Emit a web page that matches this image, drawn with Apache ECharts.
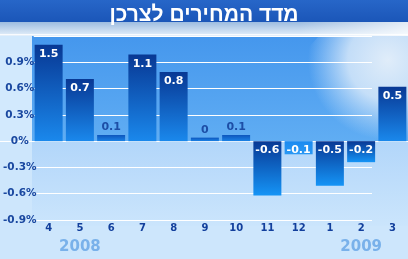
<!DOCTYPE html>
<html><head><meta charset="utf-8">
<script src="https://cdn.jsdelivr.net/npm/echarts@6/dist/echarts.min.js"></script>
<style>html,body{margin:0;padding:0;background:#cde6fc;overflow:hidden}#c{width:408px;height:259px}</style>
</head><body><div id="c"></div>
<script>
const titleText = 'מדד המחירים לצרכן';
const categories = ['4','5','6','7','8','9','10','11','12','1','2','3'];
const printedValues = [1.5, 0.7, 0.1, 1.1, 0.8, 0, 0.1, -0.6, -0.1, -0.5, -0.2, 0.5];
// bar heights as drawn against the % axis of the picture
const barHeights = [1.10, 0.71, 0.07, 0.99, 0.79, 0.04, 0.07, -0.62, -0.15, -0.51, -0.24, 0.62];
const yTicks = [-0.9, -0.6, -0.3, 0, 0.3, 0.6, 0.9];
const yTickLabels = ['-0.9%', '-0.6%', '-0.3%', '0%', '0.3%', '0.6%', '0.9%'];
const yearRow = ['', '2008', '', '', '', '', '', '', '', '', '2009', ''];

const Y_MIN = -0.9, Y_MAX = 1.2, Y_STEP = 0.3;
const FONT = 'DejaVu Sans';
const G = echarts.graphic.LinearGradient;

function barColor(h) {
  const tiny = Math.abs(h) < 0.2;
  if (tiny && h >= 0) return new G(0, 0, 0, 1, [{offset: 0, color: '#0d56bd'}, {offset: 1, color: '#1a82e6'}]);
  if (tiny && h < 0) return new G(0, 0, 0, 1, [{offset: 0, color: '#1a8af0'}, {offset: 1, color: '#2a98f4'}]);
  if (h > 0) return new G(0, 0, 0, 1, [{offset: 0, color: '#083894'}, {offset: 1, color: '#1a88ec'}]);
  return new G(0, 0, 0, 1, [{offset: 0, color: '#083894'}, {offset: 1, color: '#1594f6'}]);
}
function barLabel(h, i) {
  const base = {show: true, fontFamily: FONT, fontWeight: 'bold', fontSize: 11,
    formatter: () => String(printedValues[i])};
  if (h >= 0 && h < 0.2) return Object.assign(base, {position: 'top', distance: 2, color: '#1d4ea6'});
  if (h >= 0) return Object.assign(base, {position: 'insideTop', distance: 4, color: '#ffffff'});
  return Object.assign(base, {position: 'insideTop', distance: 3, color: '#ffffff'});
}

const plotGrad = () => new G(0, 36, 0, 141, [{offset: 0, color: '#4597ed'}, {offset: 1, color: '#60adf3'}], true);

const chart = echarts.init(document.getElementById('c'), null, {renderer: 'canvas'});
const yAxisBase = {min: Y_MIN, max: Y_MAX, interval: Y_STEP};
chart.setOption({
  backgroundColor: '#cde6fc',
  animation: false,
  title: {text: titleText, left: 'center', top: 0,
    textStyle: {color: '#ffffff', fontFamily: 'Liberation Sans', fontWeight: 'bold', fontSize: 21}},
  graphic: [
    {type: 'rect', z: -10, shape: {x: 32, y: 36, width: 376, height: 105}, style: {fill: plotGrad()}},
    {type: 'rect', z: -10, shape: {x: 32, y: 141, width: 376, height: 85},
      style: {fill: new G(0, 0, 0, 1, [{offset: 0, color: '#b2d6fa'}, {offset: 1, color: '#cbe5fc'}])}},
    {type: 'ellipse', z: -9, shape: {cx: 388, cy: 60, rx: 135, ry: 80},
      style: {fill: new echarts.graphic.RadialGradient(0.5, 0.5, 0.5, [
        {offset: 0, color: 'rgba(232,241,250,0.95)'}, {offset: 0.5, color: 'rgba(222,236,250,0.82)'},
        {offset: 1, color: 'rgba(210,230,250,0)'}])}},
    {type: 'circle', z: -8.5, shape: {cx: 180, cy: -80, r: 181}, style: {fill: plotGrad()}},
    {type: 'rect', z: -8.4, shape: {x: 0, y: 36, width: 32, height: 105}, style: {fill: '#d2e9fd'}},
    {type: 'rect', z: -8, shape: {x: 0, y: 22, width: 408, height: 14},
      style: {fill: new G(0, 0, 0, 1, [{offset: 0, color: '#9dbce0'}, {offset: 1, color: '#e6f1fb'}])}},
    {type: 'rect', z: -7.9, shape: {x: 300, y: 22, width: 108, height: 14},
      style: {fill: new G(0, 0, 1, 0, [{offset: 0, color: 'rgba(255,255,255,0)'}, {offset: 1, color: 'rgba(255,255,255,0.7)'}])}},
    {type: 'rect', z: -7.8, shape: {x: 0, y: 34, width: 408, height: 1}, style: {fill: 'rgba(255,255,255,0.8)'}},
    {type: 'rect', z: -7, shape: {x: 0, y: 0, width: 408, height: 22},
      style: {fill: new G(0, 0, 0, 1, [{offset: 0, color: '#2766c8'}, {offset: 1, color: '#1b56b8'}])}}
  ],
  grid: [
    {left: 33, right: -2, top: 36, bottom: 39},
    {left: 32, right: 36, top: 36, bottom: 39},
    {left: 0, right: 0, top: 36, bottom: 39}
  ],
  xAxis: [
    {type: 'category', gridIndex: 0, data: categories, position: 'bottom',
      axisLine: {show: false, onZero: false}, axisTick: {show: false},
      axisLabel: {margin: 3, color: '#123f9c', fontFamily: FONT, fontWeight: 'bold', fontSize: 10, interval: 0}},
    {type: 'category', gridIndex: 0, data: yearRow, position: 'bottom', offset: 16,
      axisLine: {show: false, onZero: false}, axisTick: {show: false},
      axisLabel: {margin: 4, color: '#79b1ea', fontFamily: FONT, fontWeight: 'bold', fontSize: 15, interval: 0}},
    {type: 'category', gridIndex: 1, data: categories, show: false},
    {type: 'category', gridIndex: 2, data: categories,
      axisLine: {show: true, onZero: true, lineStyle: {color: '#ffffff', width: 1}},
      axisTick: {show: false}, axisLabel: {show: false}}
  ],
  yAxis: [
    Object.assign({type: 'value', gridIndex: 0, show: false}, yAxisBase),
    Object.assign({type: 'value', gridIndex: 1,
      axisLine: {show: false}, axisTick: {show: false},
      splitLine: {show: true, lineStyle: {color: '#ffffff', width: 1}},
      axisLabel: {margin: 14, align: 'center', color: '#1a48a0', fontFamily: FONT, fontWeight: 'bold', fontSize: 10.5,
        formatter: v => {
          const i = yTicks.findIndex(t => Math.abs(t - v) < 1e-6);
          return i < 0 ? '' : yTickLabels[i];
        }}}, yAxisBase),
    Object.assign({type: 'value', gridIndex: 2, show: false, splitLine: {show: false}}, yAxisBase)
  ],
  series: [{
    type: 'bar', xAxisIndex: 0, yAxisIndex: 0, barWidth: 28, z: 5,
    data: barHeights.map((h, i) => ({value: h, itemStyle: {color: barColor(h)}, label: barLabel(h, i)}))
  }]
});
</script></body></html>
